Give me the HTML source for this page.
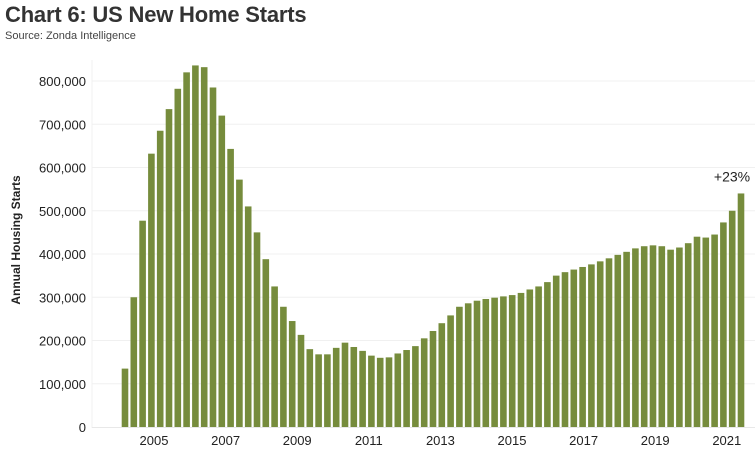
<!DOCTYPE html>
<html><head><meta charset="utf-8"><style>
body{margin:0;background:#fff;width:755px;height:461px;overflow:hidden;font-family:"Liberation Sans",sans-serif;}
#title{position:absolute;left:5px;top:2px;font-size:22px;font-weight:bold;color:#333;letter-spacing:-0.2px}
#source{position:absolute;left:5px;top:30px;font-size:11px;color:#444}
svg{position:absolute;left:0;top:0}
</style></head><body>
<div id="title">Chart 6: US New Home Starts</div>
<div id="source">Source: Zonda Intelligence</div>
<svg id="chart" width="755" height="461"></svg>
<script>
const values = [135,300,477,632,685,735,782,820,836,832,785,720,643,572,510,450,388,325,278,245,213,180,168,168,183,195,185,176,165,160,161,170,178,187,205,222,240,258,278,286,292,296,299,302,305,310,318,325,335,350,358,364,370,376,383,390,398,405,413,418,420,418,410,415,425,440,438,445,473,500,540].map(v=>v*1000);
const yTicks = [0,100000,200000,300000,400000,500000,600000,700000,800000];
const yearLabels = ["2005","2007","2009","2011","2013","2015","2017","2019","2021"];
const annotation = "+23%";

const svg = document.getElementById('chart');
const NS = 'http://www.w3.org/2000/svg';
const y0 = 427, pxPer = 346/800000;
const y = v => y0 - v*pxPer;
const firstX = 125, lastX = 741;
const x = i => firstX + i*(lastX-firstX)/(values.length-1);
const barW = 6.6;
function mk(t, a){const e=document.createElementNS(NS,t);for(const k in a)e.setAttribute(k,a[k]);svg.appendChild(e);return e;}

yTicks.forEach(t=>{
  if(t>0){const g=mk('line',{x1:92,x2:755,y1:y(t),y2:y(t),stroke:'#f0f0f0','stroke-width':1});
  
  }
  const l=mk('text',{x:86,y:y(t)+5,'text-anchor':'end','font-size':13,fill:'#222'});
  l.textContent=t.toLocaleString('en-US');
  
  
});
const ax=mk('line',{x1:92,x2:92,y1:60,y2:428,stroke:'#f0f0f0'});


const bl=mk('line',{x1:92,x2:755,y1:y0+0.5,y2:y0+0.5,stroke:'#e8e8e8'});



values.forEach((v,i)=>{
  const r=mk('rect',{x:x(i)-barW/2,y:y(v),width:barW,height:y0-y(v),fill:'#768c3c'});
  
  
});
yearLabels.forEach((yr,k)=>{
  const t=mk('text',{x:154+k*71.6,y:445,'text-anchor':'middle','font-size':13,fill:'#222'});
  t.textContent=yr;
  
  
});
const yt=mk('text',{x:0,y:0,'text-anchor':'middle','font-size':12,'font-weight':'bold',fill:'#222',transform:'translate(20,240) rotate(-90)'});
yt.textContent='Annual Housing Starts';


const an=mk('text',{x:x(values.length-1)-9,y:y(values[values.length-1])-12,'text-anchor':'middle','font-size':14,fill:'#222'});
an.textContent=annotation;


</script>
</body></html>
